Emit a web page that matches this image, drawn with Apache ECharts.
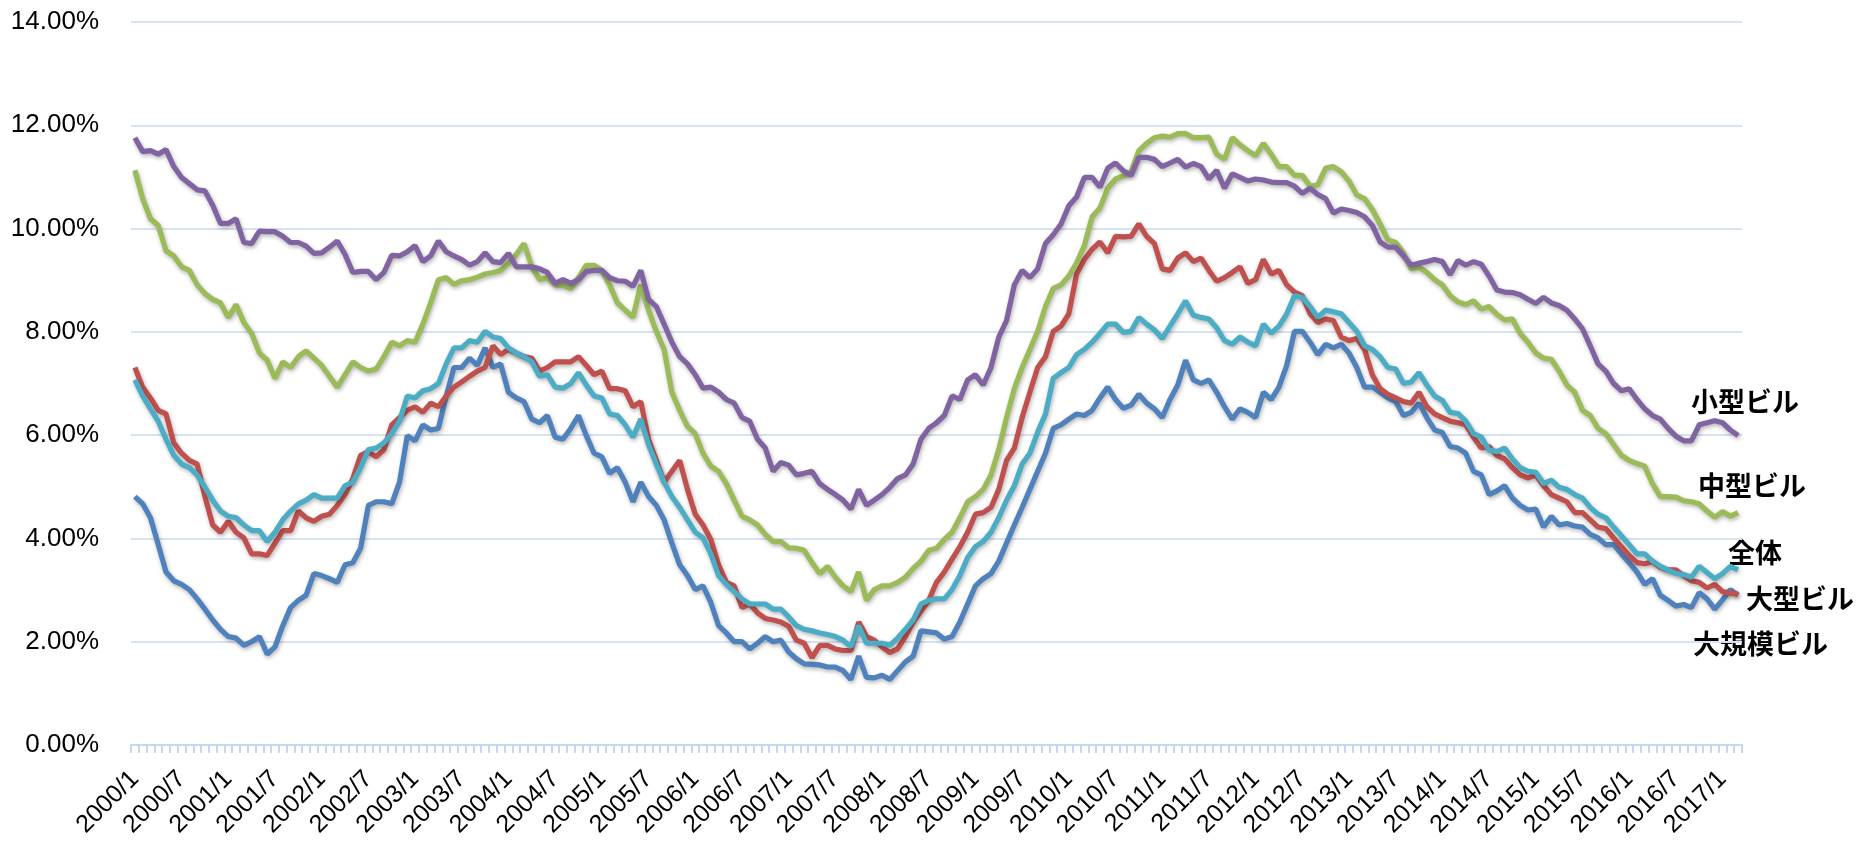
<!DOCTYPE html>
<html>
<head>
<meta charset="UTF-8">
<script src="https://cdn.jsdelivr.net/npm/echarts@6/dist/echarts.min.js"></script>
<style>
  html, body { margin: 0; padding: 0; background: #fff; }
  #chart { width: 1858px; height: 841px; }
</style>
</head>
<body>
<div id="chart"></div>
<script>
// 2000/1 .. 2017/3 monthly vacancy rates (%)
var months = [];
for (var y = 2000; y <= 2017; y++) {
  for (var m = 1; m <= 12; m++) {
    if (months.length < 207) months.push(y + '/' + m);
  }
}

var yTicks = [0, 2, 4, 6, 8, 10, 12, 14];

// 小型ビル
var small = [
  11.76, 11.49, 11.51, 11.44, 11.53, 11.20, 10.99, 10.87, 10.75, 10.73, 10.45, 10.10, 10.10, 10.19, 9.73, 9.71, 9.95, 9.94, 9.94, 9.85, 9.73, 9.73, 9.66, 9.52, 9.53, 9.64, 9.76, 9.50, 9.15, 9.17, 9.17, 9.01, 9.15, 9.48, 9.47, 9.55, 9.67, 9.36, 9.47, 9.76, 9.55, 9.47, 9.40,
  9.29, 9.36, 9.53, 9.36, 9.34, 9.52, 9.26, 9.26, 9.26, 9.22, 9.15, 8.94, 9.01, 8.94, 9.01, 9.17, 9.19, 9.19, 9.05, 8.99, 8.98, 8.88, 9.19, 8.63, 8.49, 8.15, 7.80, 7.52, 7.38, 7.17, 6.91, 6.93, 6.83, 6.69, 6.62, 6.34, 6.27, 5.92, 5.75, 5.30, 5.47,
  5.42, 5.23, 5.26, 5.30, 5.06, 4.95, 4.85, 4.74, 4.57, 4.95, 4.64, 4.74, 4.85, 4.99, 5.16, 5.23, 5.44, 5.92, 6.13, 6.24, 6.38, 6.76, 6.69, 7.07, 7.17, 6.97, 7.31, 7.90, 8.22, 8.91, 9.19, 9.05, 9.22, 9.71, 9.88, 10.09, 10.44, 10.61, 10.99, 10.99, 10.80, 11.17, 11.27,
  11.12, 11.03, 11.38, 11.38, 11.34, 11.20, 11.27, 11.34, 11.19, 11.26, 11.20, 10.96, 11.13, 10.78, 11.06, 10.99, 10.92, 10.96, 10.94, 10.90, 10.89, 10.89, 10.82, 10.68, 10.78, 10.66, 10.58, 10.30, 10.38, 10.35, 10.31, 10.23, 10.06, 9.74, 9.64, 9.64, 9.47, 9.29, 9.33, 9.36, 9.40,
  9.36, 9.11, 9.38, 9.29, 9.36, 9.31, 9.08, 8.81, 8.77, 8.76, 8.72, 8.63, 8.55, 8.67, 8.56, 8.51, 8.42, 8.25, 8.06, 7.73, 7.38, 7.24, 7.00, 6.86, 6.90, 6.69, 6.51, 6.38, 6.31, 6.13, 5.98, 5.89, 5.89, 6.20, 6.24, 6.28, 6.24, 6.10, 5.99
];

// 中型ビル
var medium = [
  11.13, 10.58, 10.19, 10.06, 9.57, 9.47, 9.26, 9.19, 8.91, 8.74, 8.63, 8.56, 8.28, 8.53, 8.18, 7.97, 7.59, 7.45, 7.10, 7.42, 7.31, 7.52, 7.63, 7.49, 7.35, 7.14, 6.93, 7.17, 7.42, 7.31, 7.24, 7.28, 7.52, 7.80, 7.73, 7.83, 7.80, 8.15, 8.56, 9.01, 9.05, 8.92, 8.99,
  9.01, 9.06, 9.12, 9.15, 9.19, 9.33, 9.50, 9.71, 9.26, 9.01, 9.05, 8.91, 8.90, 8.84, 9.05, 9.29, 9.29, 9.19, 8.91, 8.56, 8.42, 8.28, 8.91, 8.42, 8.01, 7.66, 6.83, 6.48, 6.17, 6.03, 5.65, 5.40, 5.30, 5.06, 4.74, 4.43, 4.36, 4.26, 4.08, 3.94, 3.94,
  3.82, 3.81, 3.77, 3.53, 3.32, 3.46, 3.25, 3.08, 2.97, 3.35, 2.80, 3.01, 3.08, 3.08, 3.15, 3.25, 3.42, 3.56, 3.77, 3.81, 3.98, 4.12, 4.40, 4.71, 4.81, 4.95, 5.23, 5.72, 6.34, 6.90, 7.31, 7.66, 8.01, 8.49, 8.84, 8.91, 9.08, 9.33, 9.67, 10.23, 10.40, 10.78, 10.96,
  11.02, 11.10, 11.51, 11.65, 11.76, 11.79, 11.77, 11.84, 11.84, 11.76, 11.76, 11.77, 11.44, 11.34, 11.76, 11.62, 11.51, 11.41, 11.65, 11.44, 11.20, 11.20, 11.03, 11.03, 10.82, 10.85, 11.17, 11.20, 11.10, 10.92, 10.65, 10.58, 10.37, 10.09, 9.78, 9.73, 9.53, 9.22, 9.26, 9.15, 9.01,
  8.91, 8.70, 8.58, 8.53, 8.60, 8.44, 8.49, 8.34, 8.23, 8.25, 7.97, 7.80, 7.59, 7.49, 7.47, 7.24, 6.97, 6.83, 6.48, 6.38, 6.13, 6.03, 5.82, 5.61, 5.51, 5.45, 5.40, 5.06, 4.81, 4.81, 4.80, 4.73, 4.71, 4.67, 4.53, 4.41, 4.52, 4.43, 4.50
];

// 大型ビル
var large = [
  7.31, 6.93, 6.72, 6.48, 6.41, 5.85, 5.65, 5.51, 5.44, 4.81, 4.26, 4.12, 4.33, 4.12, 4.01, 3.70, 3.70, 3.67, 3.91, 4.15, 4.15, 4.53, 4.40, 4.33, 4.43, 4.47, 4.64, 4.85, 5.16, 5.61, 5.68, 5.58, 5.72, 6.20, 6.34, 6.48, 6.55, 6.44, 6.62, 6.55, 6.76, 6.93, 7.03,
  7.14, 7.24, 7.31, 7.73, 7.56, 7.66, 7.59, 7.52, 7.49, 7.24, 7.31, 7.42, 7.42, 7.42, 7.52, 7.35, 7.17, 7.24, 6.90, 6.90, 6.86, 6.55, 6.65, 5.92, 5.51, 5.09, 5.30, 5.51, 4.95, 4.47, 4.26, 3.98, 3.49, 3.15, 3.08, 2.66, 2.73, 2.56, 2.45, 2.42, 2.38,
  2.30, 2.03, 1.97, 1.69, 1.93, 1.93, 1.86, 1.83, 1.83, 2.38, 2.10, 2.03, 1.90, 1.79, 1.86, 2.10, 2.38, 2.59, 2.80, 3.15, 3.35, 3.60, 3.84, 4.12, 4.47, 4.50, 4.60, 4.95, 5.51, 5.75, 6.34, 6.83, 7.31, 7.52, 8.01, 8.11, 8.35, 9.12, 9.40, 9.60, 9.74, 9.53, 9.85,
  9.84, 9.85, 10.09, 9.85, 9.71, 9.22, 9.19, 9.43, 9.53, 9.36, 9.43, 9.19, 8.98, 9.05, 9.15, 9.26, 8.94, 9.01, 9.40, 9.12, 9.19, 8.91, 8.77, 8.70, 8.35, 8.18, 8.25, 8.22, 7.90, 7.83, 7.87, 7.66, 7.17, 6.90, 6.79, 6.72, 6.65, 6.62, 6.83, 6.55, 6.41,
  6.34, 6.27, 6.24, 6.20, 5.96, 5.75, 5.78, 5.61, 5.54, 5.37, 5.23, 5.17, 5.23, 5.02, 4.85, 4.78, 4.71, 4.50, 4.50, 4.36, 4.22, 4.19, 4.01, 3.84, 3.67, 3.53, 3.51, 3.55, 3.44, 3.39, 3.39, 3.28, 3.18, 3.15, 3.04, 3.11, 2.97, 2.94, 2.92
];

// 全体
var total = [
  7.07, 6.76, 6.51, 6.27, 5.92, 5.61, 5.44, 5.37, 5.23, 4.99, 4.74, 4.53, 4.43, 4.40, 4.26, 4.15, 4.15, 3.94, 4.12, 4.36, 4.53, 4.67, 4.74, 4.85, 4.78, 4.78, 4.78, 5.02, 5.09, 5.37, 5.72, 5.75, 5.85, 6.03, 6.27, 6.76, 6.72, 6.86, 6.90, 7.00, 7.38, 7.69, 7.69,
  7.83, 7.80, 8.01, 7.90, 7.87, 7.69, 7.59, 7.52, 7.42, 7.14, 7.17, 6.93, 6.91, 7.00, 7.21, 6.97, 6.76, 6.72, 6.41, 6.38, 6.20, 5.96, 6.31, 5.82, 5.44, 5.09, 4.81, 4.60, 4.36, 4.12, 4.01, 3.70, 3.28, 3.11, 2.97, 2.83, 2.73, 2.73, 2.73, 2.63, 2.63,
  2.48, 2.31, 2.24, 2.21, 2.17, 2.14, 2.10, 2.03, 1.90, 2.31, 1.97, 1.97, 1.97, 1.93, 2.07, 2.24, 2.42, 2.73, 2.80, 2.83, 2.83, 3.01, 3.28, 3.63, 3.84, 3.94, 4.12, 4.40, 4.74, 5.02, 5.44, 5.65, 6.06, 6.41, 7.10, 7.21, 7.31, 7.56, 7.66, 7.80, 7.97, 8.15, 8.15,
  7.99, 8.01, 8.28, 8.15, 8.04, 7.87, 8.11, 8.35, 8.60, 8.32, 8.28, 8.25, 8.08, 7.83, 7.76, 7.90, 7.80, 7.73, 8.15, 7.97, 8.11, 8.35, 8.70, 8.67, 8.49, 8.28, 8.42, 8.39, 8.35, 8.18, 8.01, 7.73, 7.66, 7.52, 7.31, 7.28, 7.00, 7.03, 7.21, 6.97, 6.76,
  6.67, 6.44, 6.42, 6.27, 6.03, 5.96, 5.71, 5.68, 5.75, 5.54, 5.37, 5.30, 5.28, 5.06, 5.13, 4.99, 4.95, 4.85, 4.78, 4.60, 4.47, 4.40, 4.22, 4.05, 3.88, 3.70, 3.70, 3.56, 3.46, 3.39, 3.32, 3.30, 3.25, 3.46, 3.34, 3.22, 3.32, 3.46, 3.39
];

// 大規模ビル
var huge = [
  4.81, 4.67, 4.40, 3.88, 3.35, 3.18, 3.11, 3.01, 2.83, 2.63, 2.42, 2.24, 2.10, 2.07, 1.93, 2.00, 2.10, 1.76, 1.90, 2.31, 2.66, 2.80, 2.90, 3.32, 3.28, 3.22, 3.15, 3.49, 3.53, 3.81, 4.64, 4.71, 4.71, 4.67, 5.09, 5.99, 5.89, 6.20, 6.10, 6.13, 6.76, 7.31, 7.31,
  7.49, 7.35, 7.69, 7.31, 7.38, 6.83, 6.72, 6.65, 6.31, 6.24, 6.38, 5.96, 5.92, 6.13, 6.38, 5.99, 5.65, 5.58, 5.26, 5.37, 5.09, 4.71, 5.09, 4.81, 4.64, 4.36, 3.91, 3.49, 3.28, 3.01, 3.08, 2.76, 2.31, 2.17, 2.00, 2.00, 1.86, 1.97, 2.10, 2.00, 2.03,
  1.80, 1.67, 1.57, 1.56, 1.55, 1.51, 1.51, 1.44, 1.27, 1.72, 1.31, 1.30, 1.35, 1.27, 1.44, 1.61, 1.72, 2.21, 2.19, 2.17, 2.05, 2.10, 2.38, 2.73, 3.08, 3.22, 3.32, 3.56, 3.91, 4.26, 4.60, 4.95, 5.30, 5.65, 6.13, 6.20, 6.31, 6.41, 6.38, 6.48, 6.72, 6.93, 6.69,
  6.52, 6.58, 6.79, 6.62, 6.51, 6.34, 6.69, 6.97, 7.45, 7.07, 7.00, 7.07, 6.83, 6.55, 6.31, 6.51, 6.44, 6.34, 6.83, 6.69, 6.93, 7.35, 8.01, 8.01, 7.80, 7.56, 7.76, 7.69, 7.76, 7.59, 7.31, 6.93, 6.93, 6.83, 6.72, 6.65, 6.38, 6.44, 6.62, 6.34, 6.10,
  6.05, 5.78, 5.75, 5.65, 5.30, 5.23, 4.85, 4.92, 5.02, 4.78, 4.64, 4.55, 4.57, 4.22, 4.43, 4.26, 4.29, 4.24, 4.22, 4.08, 4.01, 3.88, 3.88, 3.70, 3.53, 3.35, 3.11, 3.22, 2.90, 2.80, 2.69, 2.72, 2.66, 2.95, 2.83, 2.63, 2.81, 3.01, 2.90
];

var seriesNames = ['大規模ビル', '大型ビル', '中型ビル', '小型ビル', '全体'];
var seriesColors = ['#4f81bd', '#c0504d', '#9bbb59', '#8064a2', '#4bacc6'];
var seriesData = [huge, large, medium, small, total];

var chart = echarts.init(document.getElementById('chart'));

function makeLine(i) {
  return {
    name: seriesNames[i],
    type: 'line',
    data: seriesData[i],
    symbol: 'none',
    lineStyle: {
      color: seriesColors[i],
      width: 5.2,
      shadowColor: 'rgba(0,0,0,0.3)',
      shadowBlur: 4,
      shadowOffsetX: 1,
      shadowOffsetY: 2
    },
    itemStyle: { color: seriesColors[i] },
    z: 2 + i
  };
}

var labelFont = 'bold 27px "Noto Sans CJK JP"';
function sideLabel(text, x, y) {
  return {
    type: 'text', x: x, y: y,
    style: { text: text, font: labelFont, fill: '#000', verticalAlign: 'middle' }
  };
}

var option = {
  animation: false,
  backgroundColor: '#fff',
  grid: { left: 131, right: 116, top: 22, bottom: 96, containLabel: false, outerBoundsMode: 'none' },
  xAxis: {
    type: 'category',
    data: months,
    boundaryGap: true,
    axisLine: { show: true, lineStyle: { color: '#c6d8ef', width: 2 } },
    axisTick: { show: true, interval: 0, length: 8, lineStyle: { color: '#c6d8ef', width: 2 } },
    axisLabel: {
      interval: 5,
      rotate: 45,
      margin: 30,
      fontSize: 25,
      fontFamily: '"Liberation Sans", sans-serif',
      color: '#000'
    },
    splitLine: { show: false }
  },
  yAxis: {
    type: 'value',
    min: yTicks[0],
    max: yTicks[yTicks.length - 1],
    interval: 2,
    axisLine: { show: false },
    axisTick: { show: false },
    axisLabel: {
      margin: 32,
      fontSize: 26,
      fontFamily: '"Liberation Sans", sans-serif',
      color: '#000',
      formatter: function (v) { return v.toFixed(2) + '%'; }
    },
    splitLine: { show: true, lineStyle: { color: '#d7e3f3', width: 2 } }
  },
  graphic: [
    sideLabel('小型ビル', 1691, 402),
    sideLabel('中型ビル', 1698, 486),
    sideLabel('全体', 1728, 553),
    sideLabel('大型ビル', 1746, 599),
    sideLabel('大規模ビル', 1693, 644)
  ],
  series: [makeLine(0), makeLine(1), makeLine(2), makeLine(3), makeLine(4)]
};

chart.setOption(option);
</script>
</body>
</html>
